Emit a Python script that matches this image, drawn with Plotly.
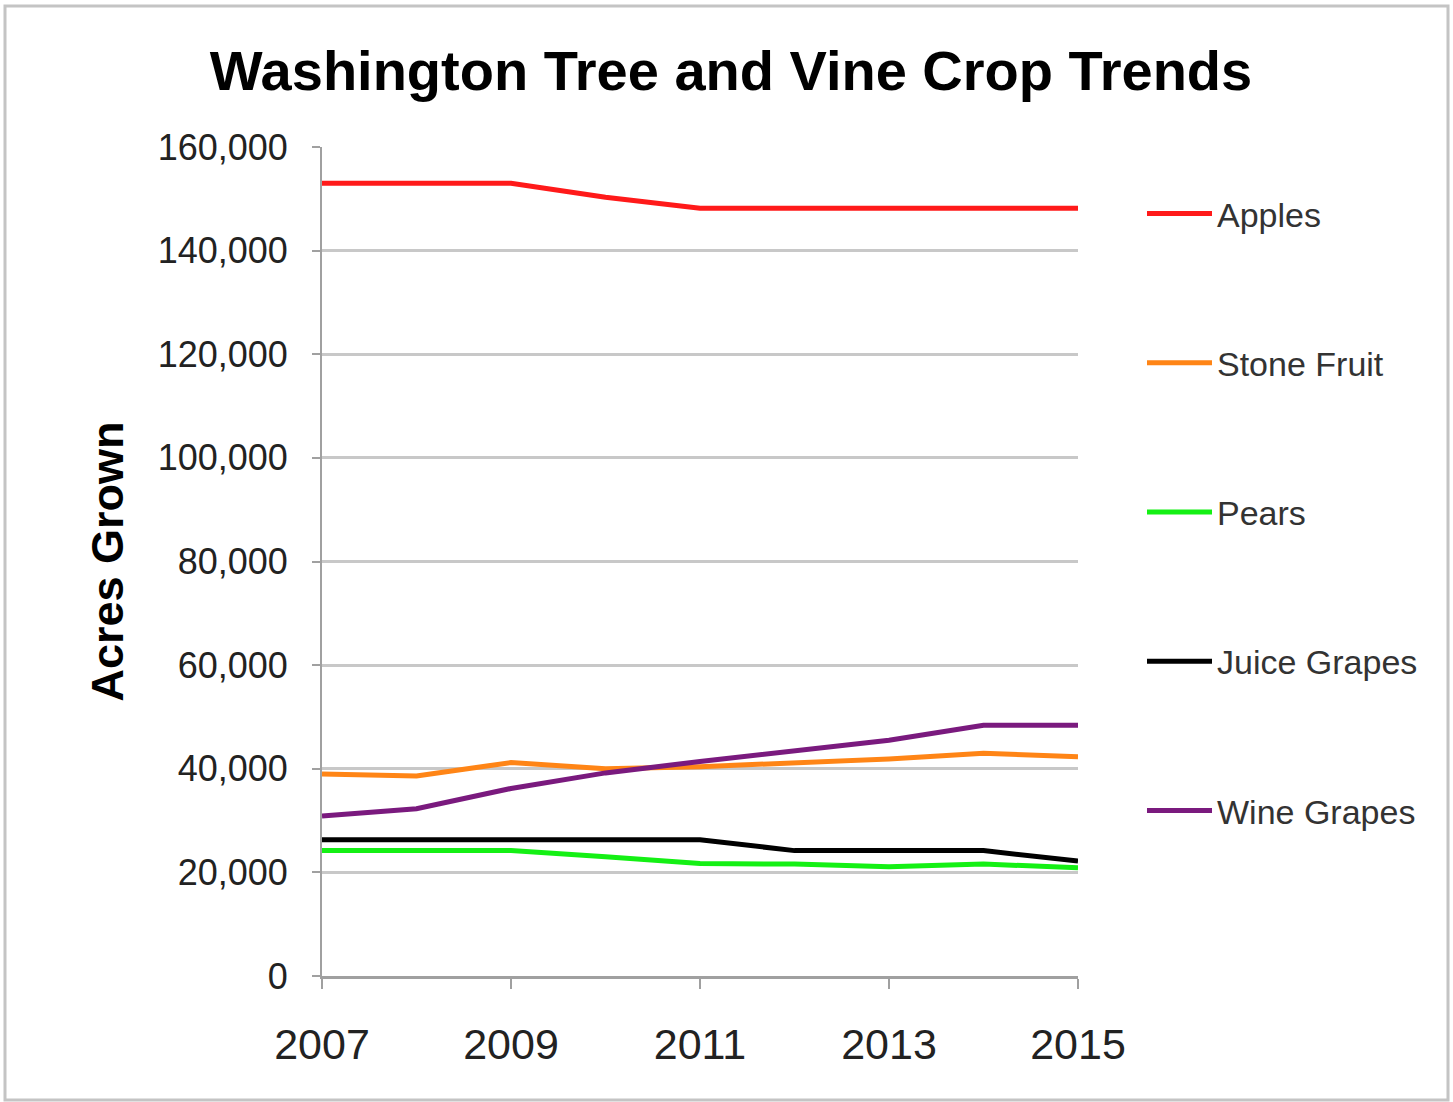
import plotly.graph_objects as go

# Acres grown per crop, 2007-2015
years = [2007, 2008, 2009, 2010, 2011, 2012, 2013, 2014, 2015]
apples = [153000, 153000, 153000, 150300, 148200, 148200, 148200, 148200, 148200]
stone_fruit = [39000, 38600, 41200, 40000, 40400, 41100, 41900, 43000, 42300]
pears = [24200, 24200, 24200, 23000, 21700, 21600, 21100, 21600, 20900]
juice_grapes = [26300, 26300, 26300, 26300, 26300, 24200, 24200, 24200, 22200]
wine_grapes = [30900, 32300, 36200, 39200, 41400, 43400, 45500, 48400, 48400]

series = [
    ("Apples", apples, "#ff1a1a"),
    ("Stone Fruit", stone_fruit, "#ff8516"),
    ("Pears", pears, "#14f014"),
    ("Juice Grapes", juice_grapes, "#000000"),
    ("Wine Grapes", wine_grapes, "#7a1a7e"),
]

x_ticks = [2007, 2009, 2011, 2013, 2015]
y_ticks = list(range(0, 160001, 20000))
y_tick_text = [f"{v:,}" for v in y_ticks]

FONT = "Liberation Sans, Arial, sans-serif"

fig = go.Figure()
for name, vals, color in series:
    fig.add_trace(go.Scatter(
        x=years, y=vals, name=name, mode="lines",
        line=dict(color=color, width=5),
        legendgroup=name,
    ))

W, H = 1453, 1102
L, R, T, B = 322, 375, 147, 126
pw, ph = W - L - R, H - T - B

def px_x(p):
    return (p - L) / pw

def px_y(p):
    return (H - B - p) / ph

fig.update_layout(
    width=W, height=H,
    margin=dict(l=L, r=R, t=T, b=B),
    paper_bgcolor="white", plot_bgcolor="white",
    font=dict(family=FONT, color="#333333"),
    title=dict(
        text="<b>Washington Tree and Vine Crop Trends</b>",
        x=731 / W, xanchor="center",
        y=1 - 70 / H, yanchor="middle",
        font=dict(size=56, color="#000000", family=FONT),
    ),
    xaxis=dict(
        range=[2007, 2015],
        tickmode="array", tickvals=x_ticks, ticktext=[str(v) for v in x_ticks],
        ticks="outside", ticklen=10, tickwidth=2, tickcolor="#a0a0a0",
        showline=True, linecolor="#a0a0a0", linewidth=3,
        showgrid=False, zeroline=False,
        tickfont=dict(size=43, color="#222222"),
        ticklabelstandoff=18,
    ),
    yaxis=dict(
        range=[0, 160000],
        tickmode="array", tickvals=y_ticks, ticktext=y_tick_text,
        ticks="outside", ticklen=8, tickwidth=2, tickcolor="#a0a0a0",
        showline=True, linecolor="#a0a0a0", linewidth=2,
        showgrid=True, gridcolor="#c8c8c8", gridwidth=3,
        zeroline=False,
        tickfont=dict(size=36, color="#222222"),
        ticklabelstandoff=17,
        title=dict(text="<b>Acres Grown</b>", font=dict(size=45, color="#000000"), standoff=20),
    ),
    legend=dict(
        x=px_x(1142), xanchor="left",
        y=px_y(185), yanchor="top",
        font=dict(size=34, color="#333333"),
        tracegroupgap=102,
        itemwidth=65,
        bgcolor="rgba(0,0,0,0)",
    ),
    shapes=[
        dict(type="rect", xref="paper", yref="paper",
             x0=px_x(5), x1=px_x(1448), y0=px_y(1100), y1=px_y(6),
             line=dict(color="#c4c4c4", width=3), layer="below"),
    ],
)

fig.write_html("out.html")
